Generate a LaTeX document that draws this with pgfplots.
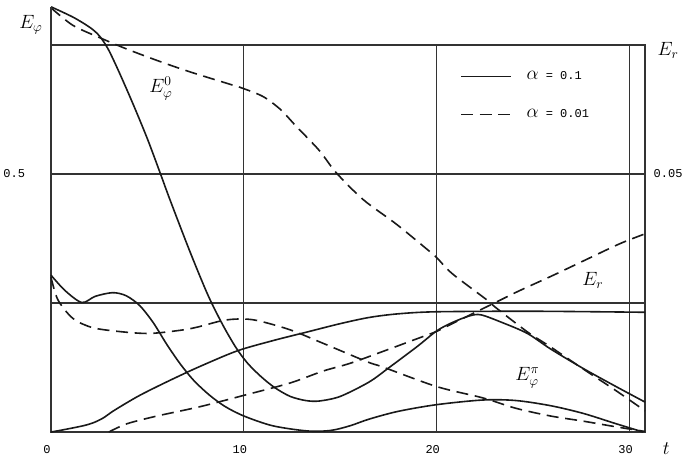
\documentclass[border=0pt]{standalone}
\usepackage{fontspec}
\setmainfont{Liberation Serif}
\setmonofont{Liberation Mono}
\usepackage{pgfplots}
\pgfplotsset{compat=1.18}
\begin{document}
\begin{tikzpicture}
\useasboundingbox (-38.25pt,-25.5pt) rectangle (480.75pt,324pt);
\pgfplotsset{
  curve/.style={black!90, line width=1.2pt, smooth, tension=0.5, forget plot},
  dcurve/.style={black!90, line width=1.2pt, smooth, tension=0.5, dash pattern=on 9pt off 5pt, forget plot},
}
\begin{axis}[
  at={(0,0)}, anchor=south west, scale only axis,
  width=445.5pt, height=290.25pt,
  xmin=0, xmax=30.8, ymin=0, ymax=0.75,
  clip=false,
  axis line style={line width=0.85pt, black!80},
  xtick={0,10,20,30}, xticklabels={0,10,20,30},
  ytick={0.25,0.5}, yticklabels={,0.5},
  grid=major, major grid style={line width=0.85pt, black!80},
  major tick length=0pt,
  /pgf/number format/assume math mode=true,
  tick label style={font=\ttfamily\small},
  xticklabel style={yshift=-6.5pt, xshift=-3pt},
  yticklabel style={xshift=-16pt},
  legend style={at={(axis cs:21.0,0.71)}, anchor=north west, draw=none, fill=none,
    font=\ttfamily\small, row sep=17pt,
    /tikz/every odd column/.append style={column sep=9pt}},
  legend cell align=left,
  legend image code/.code={\draw[#1] (0pt,0pt) -- (37.5pt,0pt);},
]
\addlegendimage{black!90, line width=1.2pt}
\addlegendentry{{\Large$\alpha$} = 0.1}
\addlegendimage{black!90, line width=1.2pt, dash pattern=on 9pt off 5pt}
\addlegendentry{{\Large$\alpha$} = 0.01}

% E_phi^0, alpha = 0.1
\addplot[curve] coordinates {
(0,0.824) (1.14,0.804) (2.02,0.784) (2.5,0.768) (2.95,0.743) (3.5,0.700)
(4.25,0.636) (5.0,0.568) (5.65,0.503) (6.17,0.450) (7.2,0.350) (8.13,0.266)
(8.9,0.208) (9.6,0.163) (10.2,0.133) (10.9,0.107) (11.6,0.086) (12.4,0.069)
(13.2,0.061) (13.9,0.060) (15.0,0.069) (16.5,0.097) (17.5,0.124) (19.0,0.166)
(20.0,0.196) (20.8,0.212) (21.7,0.225) (22.3,0.227) (23.4,0.212) (24.7,0.191)
(25.9,0.161) (27.6,0.123) (29.3,0.088) (30.8,0.058)};
% E_phi^0, alpha = 0.01
\addplot[dcurve] coordinates {
(0,0.822) (1.14,0.788) (2.54,0.764) (3.94,0.742) (5.65,0.718) (7.2,0.698)
(9.27,0.674) (9.95,0.666) (11,0.650) (11.9,0.625) (12.7,0.593) (13.9,0.546)
(14.8,0.502) (16.2,0.450) (17.9,0.403) (19.5,0.354) (20,0.338) (20.8,0.307)
(22.6,0.256) (23.1,0.240) (24.7,0.194) (25.9,0.165) (27.6,0.122) (29.3,0.080)
(30.8,0.041)};
% E_phi^pi, alpha = 0.1
\addplot[curve] coordinates {
(0,0.304) (0.73,0.274) (1.6,0.251) (2.3,0.263) (3.2,0.270) (3.9,0.264)
(4.6,0.245) (5.3,0.212) (6.0,0.170) (6.7,0.132) (7.4,0.100) (8.2,0.072)
(9.0,0.050) (10,0.031) (11.5,0.012) (13.3,0.002) (14.5,0.003) (15.5,0.012)
(16.5,0.025) (18,0.040) (20,0.053) (22.4,0.062) (24.1,0.061) (25.9,0.051)
(27.6,0.036) (29.3,0.016) (30.7,0.0)};
% E_phi^pi, alpha = 0.01
\addplot[dcurve] coordinates {
(0,0.300) (0.36,0.256) (1.14,0.220) (2.18,0.202) (3.73,0.194) (5.13,0.191)
(6.68,0.197) (7.56,0.203) (8.9,0.216) (9.8,0.219) (10.7,0.216) (12.4,0.198)
(14.1,0.172) (16.4,0.136) (17.2,0.126) (20,0.088) (22.4,0.066) (24.1,0.046)
(25.9,0.031) (27.6,0.021) (29.3,0.010) (30.8,0.001)};

\draw[line width=0.85pt, black!80] (axis cs:0,0.75) -- (axis cs:0,0.824);
\node at (axis cs:-1.04,0.789) {\Large $E_\varphi$};
\node at (axis cs:5.7,0.666) {\Large $E_\varphi^0$};
\node at (axis cs:28.1,0.294) {\Large $E_r$};
\node at (axis cs:24.7,0.105) {\Large $E_\varphi^\pi$};
\node at (axis cs:31.9,-0.033) {\Large $t$};
\node at (axis cs:32.0,0.74) {\Large $E_r$};
\end{axis}
\begin{axis}[
  at={(0,0)}, anchor=south west, scale only axis,
  width=445.5pt, height=290.25pt,
  xmin=0, xmax=30.8, ymin=0, ymax=0.075,
  clip=false,
  axis x line=none, axis y line*=right,
  y axis line style={draw=none},
  scaled y ticks=false,
  ytick={0.05}, yticklabels={0.05},
  major tick length=0pt,
  /pgf/number format/assume math mode=true,
  tick label style={font=\ttfamily\small},
  yticklabel style={xshift=3pt},
]
% E_r, alpha = 0.1
\addplot[curve] coordinates {
(0,0) (0.6,0.0004) (1.66,0.0012) (2.2,0.0018) (2.7,0.0027) (3.2,0.0040)
(3.9,0.0056) (4.6,0.0071) (5.5,0.0088) (6.5,0.0106) (7.72,0.0127) (9.64,0.0157)
(11.5,0.0177) (13.3,0.0194) (15,0.0210) (16.5,0.0222) (18,0.0229) (20,0.0233)
(25,0.0234) (30.8,0.0232)};
% E_r, alpha = 0.01
\addplot[dcurve] coordinates {
(3.0,0) (3.94,0.0016) (5.5,0.0031) (7.72,0.0049) (10,0.0071) (12.4,0.0095)
(14.1,0.0118) (15.5,0.0133) (17.2,0.0156) (19,0.0181) (20,0.0195) (20.7,0.0208)
(23.1,0.0252) (24.3,0.0274) (26,0.0303) (27.8,0.0335) (29.5,0.0365) (30.8,0.0384)};
\end{axis}
\end{tikzpicture}
\end{document}
